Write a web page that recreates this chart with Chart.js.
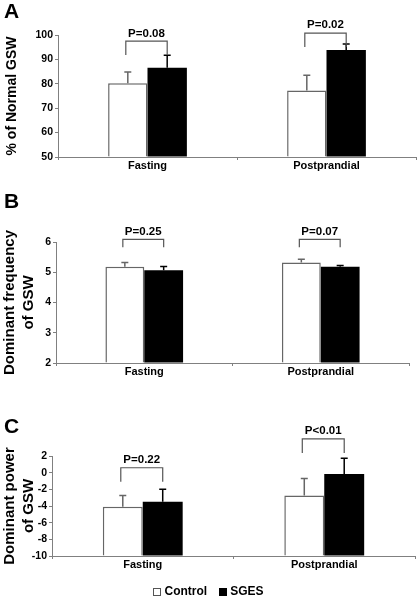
<!DOCTYPE html>
<html>
<head>
<meta charset="utf-8">
<script src="https://cdn.jsdelivr.net/npm/chart.js@4.4.1/dist/chart.umd.min.js"></script>
<style>
    html, body { margin: 0; padding: 0; background: #fff; }
    #wrap { position: relative; width: 417px; height: 611px; overflow: hidden; }
    #wrap canvas { position: absolute; left: 0; }
    .legend {
        position: absolute; left: 0; width: 417px; top: 584px; text-align: center;
        font: bold 12px "Liberation Sans", Arial, sans-serif; color: #000;
    }
    .legend .box { display: inline-block; width: 8px; height: 8px; vertical-align: -1px; margin-right: 3px; box-sizing: border-box; }
    .legend .ctrl { border: 1px solid #555; background: #fff; }
    .legend .sges { background: #000; margin-left: 12px; }
</style>
</head>
<body>
<div id="wrap">
    <canvas id="chartA" width="417" height="185" style="top:0px"></canvas>
    <canvas id="chartB" width="417" height="205" style="top:180px"></canvas>
    <canvas id="chartC" width="417" height="231" style="top:380px"></canvas>
    <div class="legend"><span class="box ctrl"></span>Control<span class="box sges"></span>SGES</div>
</div>
<script>
var categories = ['Fasting', 'Postprandial'];

// A - % of normal GSW
var normalTicks = [50, 60, 70, 80, 90, 100];
var normalControl = [80.2, 77.3];
var normalControlErr = [4.6, 6.2];
var normalSges = [86.6, 93.9];
var normalSgesErr = [5.1, 2.4];
var normalPLabels = ['P=0.08', 'P=0.02'];
var normalBracketTop = [97.5, 100.8];

// B - dominant frequency
var freqTicks = [2, 3, 4, 5, 6];
var freqControl = [5.18, 5.32];
var freqControlErr = [0.14, 0.11];
var freqSges = [5.07, 5.18];
var freqSgesErr = [0.12, 0.04];
var freqPLabels = ['P=0.25', 'P=0.07'];
var freqBracketTop = [6.09, 6.09];

// C - dominant power
var powerTicks = [-10, -8, -6, -4, -2, 0, 2];
var powerControl = [-4.1, -2.73];
var powerControlErr = [1.37, 2.04];
var powerSges = [-3.5, -0.17];
var powerSgesErr = [1.5, 1.89];
var powerPLabels = ['P=0.22', 'P<0.01'];
var powerBracketTop = [0.59, 4.05];

var FONT = '"Liberation Sans", Arial, sans-serif';
var AXIS_GRAY = '#808080';

var panelExtras = {
    id: 'panelExtras',
    afterDatasetsDraw: function (chart, args, opts) {
        var ctx = chart.ctx;
        var yScale = chart.scales.y;
        var area = chart.chartArea;
        ctx.save();

        // error bars (upper only)
        chart.data.datasets.forEach(function (ds, di) {
            var meta = chart.getDatasetMeta(di);
            meta.data.forEach(function (bar, i) {
                var top = yScale.getPixelForValue(ds.data[i] + opts.errors[di][i]);
                ctx.strokeStyle = opts.errorColors[di];
                ctx.lineWidth = 1.5;
                ctx.beginPath();
                ctx.moveTo(bar.x, bar.y);
                ctx.lineTo(bar.x, top);
                ctx.moveTo(bar.x - 3.5, top);
                ctx.lineTo(bar.x + 3.5, top);
                ctx.stroke();
            });
        });

        // significance brackets
        var m0 = chart.getDatasetMeta(0), m1 = chart.getDatasetMeta(1);
        opts.bracketTop.forEach(function (v, i) {
            var x1 = m0.data[i].x - 2, x2 = m1.data[i].x;
            var y = yScale.getPixelForValue(v);
            ctx.strokeStyle = '#555';
            ctx.lineWidth = 1.2;
            ctx.beginPath();
            ctx.moveTo(x1, y + opts.legLength);
            ctx.lineTo(x1, y);
            ctx.lineTo(x2, y);
            ctx.lineTo(x2, y + opts.legLength);
            ctx.stroke();
            ctx.fillStyle = '#000';
            ctx.font = 'bold 11.5px ' + FONT;
            ctx.textAlign = 'center';
            ctx.textBaseline = 'bottom';
            ctx.fillText(opts.pLabels[i], (x1 + x2) / 2, y - 2);
        });

        // y axis title
        ctx.fillStyle = '#000';
        ctx.font = 'bold ' + opts.titleSize + 'px ' + FONT;
        ctx.textAlign = 'center';
        ctx.textBaseline = 'middle';
        opts.title.forEach(function (line, k) {
            ctx.save();
            ctx.translate(opts.titleX[k], (area.top + area.bottom) / 2);
            ctx.rotate(-Math.PI / 2);
            ctx.fillText(line, 0, 0);
            ctx.restore();
        });

        // panel letter
        ctx.font = 'bold 21px ' + FONT;
        ctx.textAlign = 'left';
        ctx.textBaseline = 'top';
        ctx.fillText(opts.letter, 4, opts.letterY);
        ctx.restore();
    }
};

function makePanel(id, ticks, control, controlErr, sges, sgesErr, pLabels, bracketTop, extra) {
    var yMin = ticks[0], yMax = ticks[ticks.length - 1];
    return new Chart(document.getElementById(id), {
        type: 'bar',
        data: {
            labels: categories,
            datasets: [
                { label: 'Control', data: control, base: yMin, backgroundColor: '#fff', borderColor: '#666', borderWidth: 1.5 },
                { label: 'SGES', data: sges, base: yMin, backgroundColor: '#000', borderColor: '#000', borderWidth: 0 }
            ]
        },
        options: {
            responsive: false,
            animation: false,
            events: [],
            layout: { padding: extra.padding },
            datasets: { bar: { categoryPercentage: 0.44, barPercentage: 1 } },
            plugins: {
                legend: { display: false },
                tooltip: { enabled: false },
                panelExtras: {
                    errors: [controlErr, sgesErr],
                    errorColors: ['#666', '#000'],
                    pLabels: pLabels,
                    bracketTop: bracketTop,
                    legLength: extra.legLength,
                    title: extra.title,
                    titleX: extra.titleX,
                    titleSize: extra.titleSize,
                    letter: extra.letter,
                    letterY: extra.letterY
                }
            },
            scales: {
                x: {
                    grid: { drawOnChartArea: false, tickLength: 3, color: AXIS_GRAY },
                    border: { color: AXIS_GRAY, width: 1 },
                    ticks: { color: '#000', padding: -1, font: { family: FONT, size: 11, weight: 'bold' } },
                    afterFit: function (scale) { scale.height = 20; }
                },
                y: {
                    min: yMin,
                    max: yMax,
                    afterBuildTicks: function (scale) {
                        scale.ticks = ticks.map(function (v) { return { value: v }; });
                    },
                    grid: { drawOnChartArea: false, tickLength: 3, color: AXIS_GRAY },
                    border: { color: AXIS_GRAY, width: 1 },
                    ticks: { color: '#000', padding: 2, font: { family: FONT, size: 10.5, weight: 'bold' } },
                    afterFit: function (scale) { scale.width = extra.axisX; }
                }
            }
        },
        plugins: [panelExtras]
    });
}

makePanel('chartA', normalTicks, normalControl, normalControlErr, normalSges, normalSgesErr, normalPLabels, normalBracketTop, {
    padding: { left: 0, right: 1, top: 35, bottom: 8 },
    axisX: 58, legLength: 14,
    title: ['% of Normal GSW'], titleX: [12], titleSize: 14,
    letter: 'A', letterY: 2
});

makePanel('chartB', freqTicks, freqControl, freqControlErr, freqSges, freqSgesErr, freqPLabels, freqBracketTop, {
    padding: { left: 0, right: 8, top: 62, bottom: 2 },
    axisX: 56, legLength: 8,
    title: ['Dominant frequency', 'of GSW'], titleX: [10, 29], titleSize: 15,
    letter: 'B', letterY: 12
});

makePanel('chartC', powerTicks, powerControl, powerControlErr, powerSges, powerSgesErr, powerPLabels, powerBracketTop, {
    padding: { left: 0, right: 2, top: 76, bottom: 35 },
    axisX: 52, legLength: 14,
    title: ['Dominant power', 'of GSW'], titleX: [10, 29], titleSize: 15,
    letter: 'C', letterY: 37
});
</script>
</body>
</html>
